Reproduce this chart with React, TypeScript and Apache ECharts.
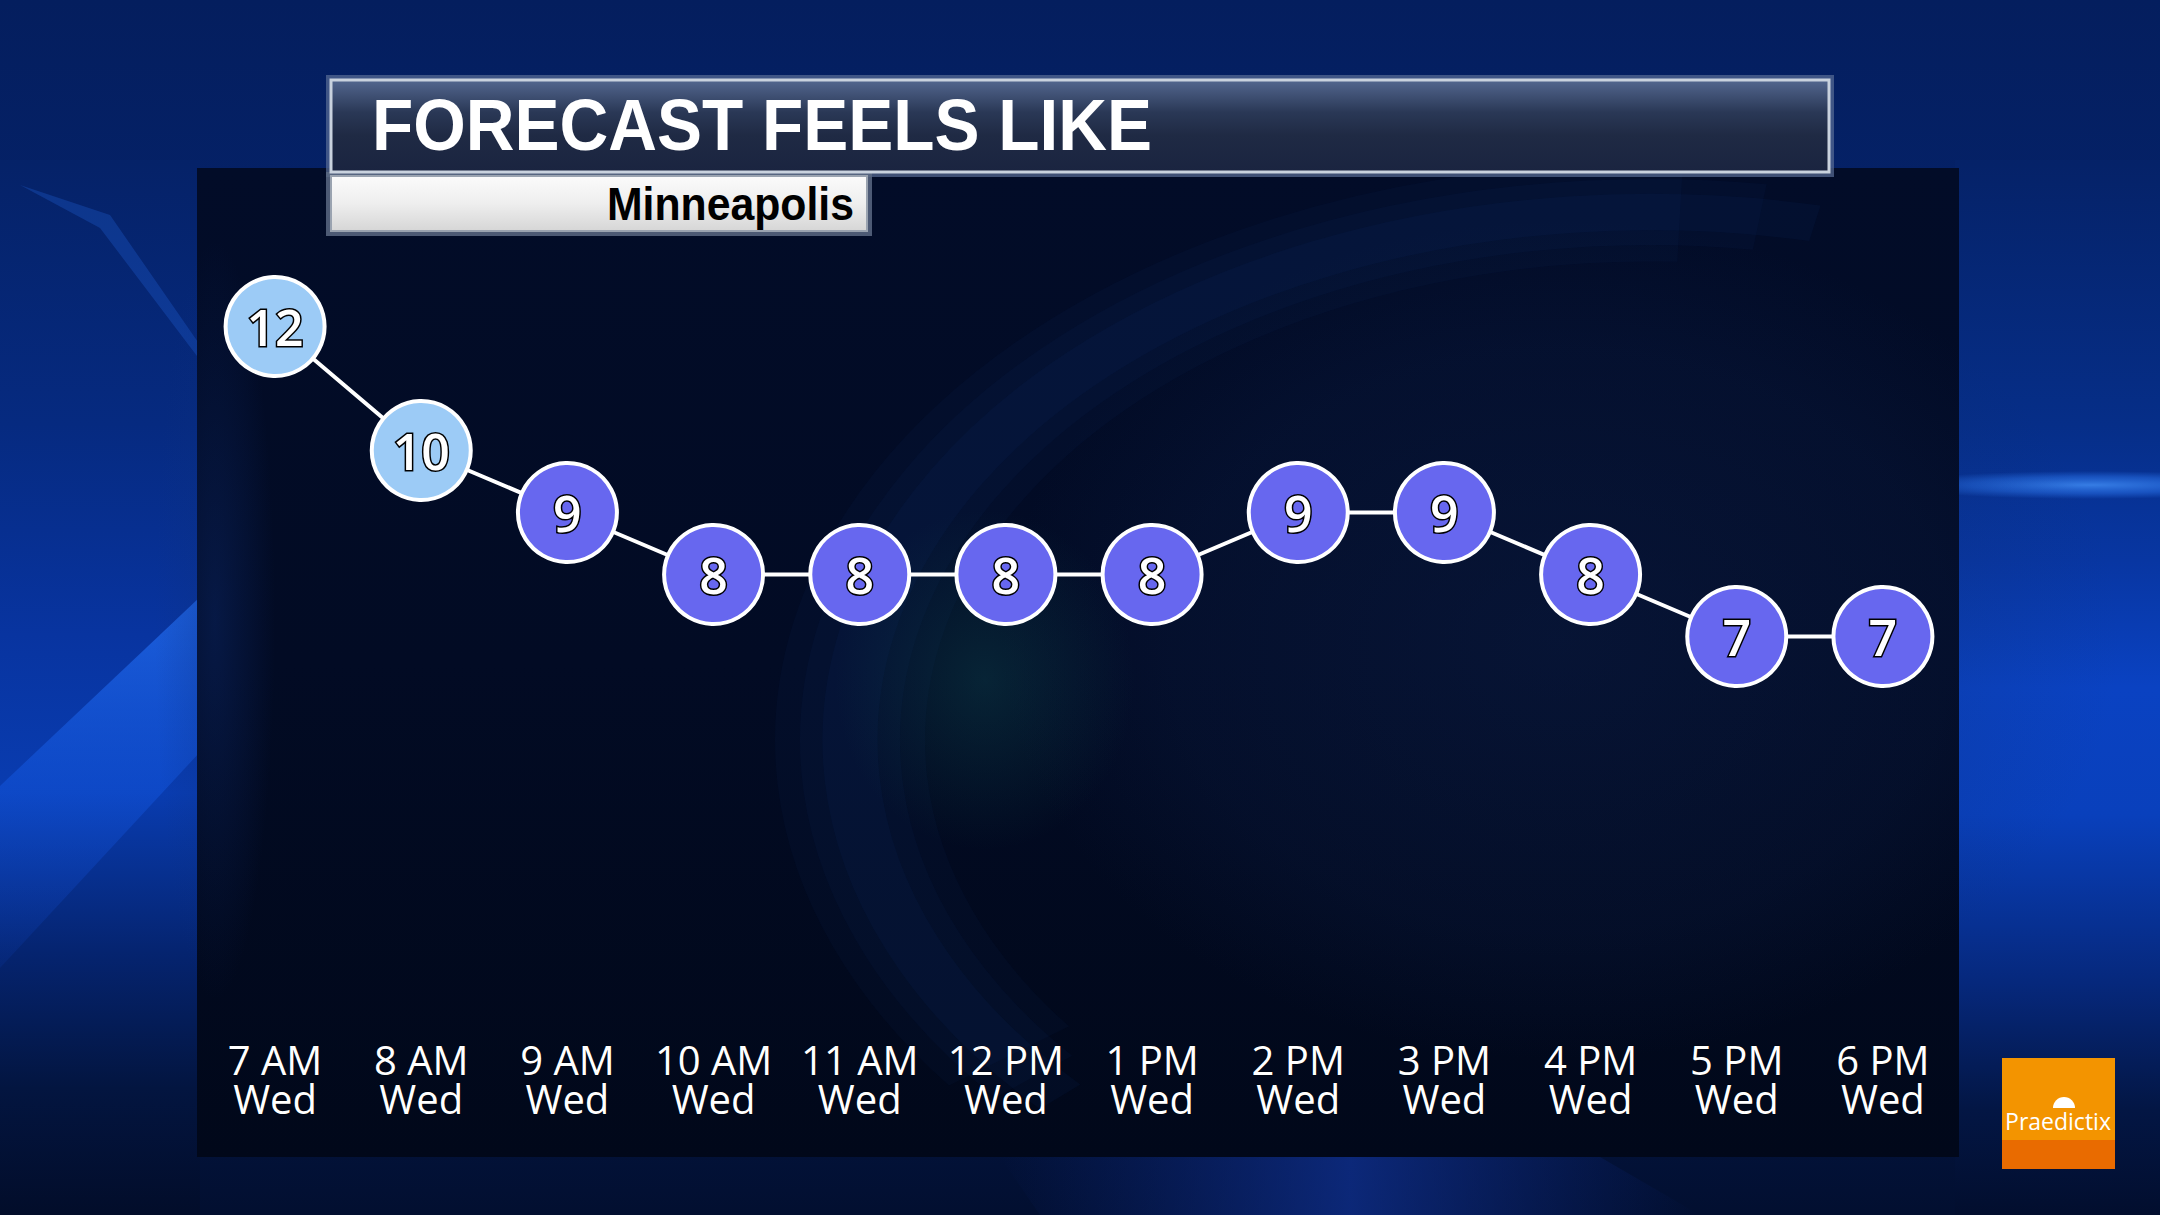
import React, { useEffect, useRef } from "react";
import * as echarts from "echarts";

const hours = ["7 AM", "8 AM", "9 AM", "10 AM", "11 AM", "12 PM", "1 PM", "2 PM", "3 PM", "4 PM", "5 PM", "6 PM"];
const days = ["Wed", "Wed", "Wed", "Wed", "Wed", "Wed", "Wed", "Wed", "Wed", "Wed", "Wed", "Wed"];
const feelsLike = [12, 10, 9, 8, 8, 8, 8, 9, 9, 8, 7, 7];
const titleText = "FORECAST FEELS LIKE";
const cityText = "Minneapolis";
const logoText = "Praedictix";

const WARM = "#9ccbf6";
const COLD = "#6767ef";

export default function App() {
  const ref = useRef<HTMLDivElement>(null);
  useEffect(() => {
    if (!ref.current) return;
    const chart = echarts.init(ref.current, null, { renderer: "svg" });
    const categories = hours.map((h, i) => h + "\n" + days[i]);
    const data = feelsLike.map((v) => ({
      value: v,
      itemStyle: { color: v >= 10 ? WARM : COLD },
    }));
    const lin = (stops: [number, string][], x2 = 0, y2 = 1) =>
      new echarts.graphic.LinearGradient(0, 0, x2, y2, stops.map(([offset, color]) => ({ offset, color })));
    const rad = (stops: [number, string][]) =>
      new echarts.graphic.RadialGradient(0.5, 0.5, 0.5, stops.map(([offset, color]) => ({ offset, color })));
    const swirl = (lw: number, alpha: number, s: number, e: number) => ({
      type: "arc", z: -88, silent: true, x: 1650, y: 740, scaleY: 0.66,
      shape: { cx: 0, cy: 0, r: 800, startAngle: s, endAngle: e },
      style: { stroke: `rgba(30,70,150,${alpha})`, lineWidth: lw, fill: "none" },
    });

    chart.setOption({
      animation: false,
      backgroundColor: "#041f60",
      grid: { left: 202, right: 2160 - 1956, top: 202.5 + 62, bottom: 1215 - 1008.5, containLabel: false },
      xAxis: {
        type: "category",
        data: categories,
        boundaryGap: true,
        axisLine: { show: false },
        axisTick: { show: false },
        splitLine: { show: false },
        axisLabel: {
          interval: 0,
          color: "#ffffff",
          fontFamily: "Open Sans",
          fontSize: 40,
          lineHeight: 39,
          margin: 31,
          textBorderColor: "rgba(0,0,0,0.6)",
          textBorderWidth: 1,
        },
      },
      yAxis: { type: "value", min: 1, max: 13, show: false, splitLine: { show: false } },
      graphic: [
        // page background
        { type: "rect", z: -100, silent: true, shape: { x: 0, y: 0, width: 2160, height: 1215 },
          style: { fill: lin([[0, "#041e5e"], [0.5, "#06287a"], [1, "#020f30"]]) } },
        // left strip
        { type: "rect", z: -99, silent: true, shape: { x: 0, y: 160, width: 200, height: 1055 },
          style: { fill: lin([[0, "#052268"], [0.25, "#062a80"], [0.45, "#0834a0"], [0.6, "#093cb0"], [0.75, "#052470"], [0.88, "#031540"], [1, "#020d2a"]]) } },
        { type: "polygon", z: -98, silent: true,
          shape: { points: [[0, 786], [200, 597], [200, 752], [0, 968]] },
          style: { fill: lin([[0, "rgba(40,120,255,0.65)"], [0.5, "rgba(20,90,230,0.45)"], [1, "rgba(15,70,200,0.12)"]], 0, 1) } },
        { type: "polygon", z: -98, silent: true,
          shape: { points: [[20, 185], [110, 215], [200, 345], [200, 360], [100, 228]] },
          style: { fill: "rgba(40,110,240,0.25)" } },
        // right strip
        { type: "rect", z: -99, silent: true, shape: { x: 1955, y: 160, width: 205, height: 1055 },
          style: { fill: lin([[0, "#052268"], [0.25, "#062e88"], [0.38, "#0836a2"], [0.5, "#0a42c2"], [0.62, "#0940bc"], [0.78, "#06287c"], [0.9, "#031644"], [1, "#020e2e"]]) } },
        { type: "ellipse", z: -98, silent: true, shape: { cx: 2090, cy: 485, rx: 200, ry: 14 },
          style: { fill: rad([[0, "rgba(70,150,255,0.75)"], [0.6, "rgba(50,130,255,0.4)"], [1, "rgba(50,130,255,0)"]]) } },
        // bottom strip wedge
        { type: "polygon", z: -98, silent: true,
          shape: { points: [[1000, 1157], [1600, 1157], [1700, 1215], [1040, 1215]] },
          style: { fill: lin([[0, "rgba(12,40,130,0)"], [0.5, "rgba(16,50,150,0.7)"], [1, "rgba(12,40,130,0)"]], 1, 0) } },
        // chart panel
        { type: "rect", z: -90, silent: true, shape: { x: 197, y: 168, width: 1762, height: 989 },
          style: { fill: lin([[0, "#020c28"], [0.5, "#020b24"], [1, "#01081a"]]) } },
        { type: "ellipse", z: -89, silent: true, shape: { cx: 1560, cy: 640, rx: 560, ry: 420 },
          style: { fill: rad([[0, "rgba(20,45,100,0.26)"], [0.7, "rgba(20,45,100,0.14)"], [1, "rgba(20,45,100,0)"]]) } },
        swirl(150, 0.05, 2.5, 4.75),
        swirl(100, 0.06, 2.45, 4.85),
        swirl(55, 0.07, 2.4, 4.92),
        { type: "ellipse", z: -88, silent: true, shape: { cx: 985, cy: 680, rx: 150, ry: 170 },
          style: { fill: rad([[0, "rgba(20,100,100,0.28)"], [1, "rgba(20,100,100,0)"]]) } },
        { type: "ellipse", z: -89, silent: true, shape: { cx: 215, cy: 620, rx: 60, ry: 380 },
          style: { fill: rad([[0, "rgba(15,50,130,0.35)"], [1, "rgba(15,50,130,0)"]]) } },
        // title box
        { type: "rect", z: 50, silent: true, shape: { x: 326, y: 75, width: 1508, height: 102 },
          style: { fill: "rgba(90,110,150,0.7)" } },
        { type: "rect", z: 51, silent: true, shape: { x: 331, y: 80, width: 1498, height: 92 },
          style: { fill: lin([[0, "#53678f"], [0.35, "#2a3856"], [0.6, "#1f2a44"], [1, "#1a2440"]]),
            stroke: "#c9d2de", lineWidth: 3 } },
        { type: "text", z: 52, silent: true, x: 372, y: 125, scaleX: 0.925,
          style: { text: titleText, fill: "#ffffff", font: "bold 73px 'Liberation Sans', Arial, sans-serif",
            textVerticalAlign: "middle", textAlign: "left",
            shadowColor: "rgba(0,0,0,0.7)", shadowBlur: 3, shadowOffsetX: 2, shadowOffsetY: 2 } },
        // subtitle box
        { type: "rect", z: 50, silent: true, shape: { x: 326, y: 172, width: 546, height: 64 },
          style: { fill: "rgba(90,105,130,0.85)" } },
        { type: "rect", z: 51, silent: true, shape: { x: 331, y: 176, width: 536, height: 55 },
          style: { fill: lin([[0, "#fbfbfb"], [0.5, "#eeeeee"], [1, "#d6d6d6"]]), stroke: "#9aa3b0", lineWidth: 2 } },
        { type: "text", z: 52, silent: true, x: 854, y: 204, scaleX: 0.93,
          style: { text: cityText, fill: "#000000", font: "bold 46px 'Liberation Sans', Arial, sans-serif",
            textVerticalAlign: "middle", textAlign: "right" } },
        // logo
        { type: "rect", z: 50, silent: true, shape: { x: 2002, y: 1058, width: 113, height: 82 },
          style: { fill: "#f39400" } },
        { type: "rect", z: 50, silent: true, shape: { x: 2002, y: 1140, width: 113, height: 29 },
          style: { fill: "#e96b00" } },
        { type: "sector", z: 51, silent: true,
          shape: { cx: 2064, cy: 1108, r0: 0, r: 11, startAngle: Math.PI, endAngle: Math.PI * 2 },
          style: { fill: "#ffffff" } },
        { type: "text", z: 52, silent: true, x: 2058, y: 1121,
          style: { text: logoText, fill: "#ffffff", font: "23px 'Open Sans', sans-serif",
            textAlign: "center", textVerticalAlign: "middle" } },
      ],
      series: [
        {
          type: "line",
          data,
          symbol: "circle",
          symbolSize: 99,
          z: 10,
          lineStyle: { color: "#ffffff", width: 4 },
          itemStyle: { borderColor: "#ffffff", borderWidth: 4 },
          label: {
            show: true,
            position: "inside",
            formatter: "{c}",
            color: "#ffffff",
            fontFamily: "Open Sans",
            fontWeight: 600,
            fontSize: 50,
            textBorderColor: "#000000",
            textBorderWidth: 3,
          },
          emphasis: { disabled: true },
        },
      ],
    });
    return () => chart.dispose();
  }, []);
  return <div ref={ref} style={{ position: "fixed", left: 0, top: 0, width: 2160, height: 1215 }} />;
}
